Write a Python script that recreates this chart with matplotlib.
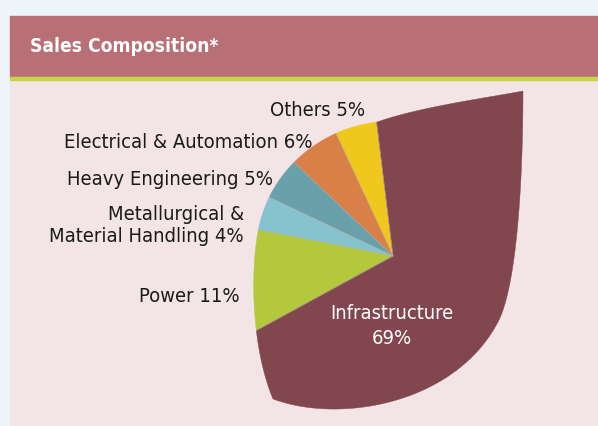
import numpy as np
import matplotlib.pyplot as plt
from matplotlib.patches import Polygon, Rectangle

# slice order follows the chart, counter-clockwise from the top
segments = ["Others", "Electrical & Automation", "Heavy Engineering",
            "Metallurgical &\nMaterial Handling", "Power", "Infrastructure"]
shares = [5, 6, 5, 4, 11, 69]
colors = ["#efc71d", "#d98048", "#6aa0aa", "#86c3ce", "#b3c93b", "#82474e"]
start_angle = 97

W, H = 598, 427
FONT = "DejaVu Sans"

fig = plt.figure(figsize=(W / 100, H / 100), dpi=100)
fig.patch.set_facecolor("#edf5fb")
ax = fig.add_axes([0, 0, 1, 1])


def px(x, y):
    # screen pixel (y down) -> axes coords (y up)
    return np.array([x, H - y], dtype=float)


def bezier(p0, p1, p2, p3, n=60):
    t = np.linspace(0, 1, n)[:, None]
    return ((1 - t) ** 3 * p0 + 3 * (1 - t) ** 2 * t * p1
            + 3 * (1 - t) * t ** 2 * p2 + t ** 3 * p3)


# panel, header and green rule
ax.add_patch(Rectangle(px(10, H), W - 10, H - 81, color="#f3e5e6", zorder=0))
ax.add_patch(Rectangle(px(10, 78), W - 10, 61, color="#b87076", zorder=0))
ax.add_patch(Rectangle(px(10, 81), W - 10, 3, color="#c4d641", zorder=0))
ax.text(30, H - 46, "Sales Composition*", color="white", fontsize=13.8,
        fontweight="bold", fontstretch="condensed", va="center", ha="left",
        family=FONT)

# leaf outline the pie is cut to (cubic bezier control points)
ctrl = [px(523, 92),
        px(480, 100), px(420, 108), px(377, 123),
        px(318, 130), px(268, 174), px(258, 233),
        px(250, 275), px(252, 350), px(273, 400),
        px(340, 425), px(455, 405), px(498, 323),
        px(517, 287), px(523, 180), px(523, 92)]
outline = np.vstack([bezier(*ctrl[i:i + 4]) for i in range(0, 15, 3)])

center = px(393, 257)
d = outline - center
theta = np.degrees(np.unwrap(np.arctan2(d[:, 1], d[:, 0])))
rad = np.hypot(d[:, 0], d[:, 1])
order = np.argsort(theta)
theta, rad = theta[order], rad[order]
th_ext = np.concatenate([theta - 360, theta, theta + 360])
r_ext = np.concatenate([rad, rad, rad])


def slice_polygon(a1, a2):
    inner = th_ext[(th_ext > a1) & (th_ext < a2)]
    ang = np.concatenate([[a1], inner, [a2]])
    r = np.interp(ang, th_ext, r_ext)
    pts = center + np.column_stack([r * np.cos(np.radians(ang)),
                                    r * np.sin(np.radians(ang))])
    return np.vstack([center, pts])


edges = start_angle + 360 * np.concatenate([[0], np.cumsum(shares)]) / sum(shares)
for a1, a2, c in zip(edges[:-1], edges[1:], colors):
    ax.add_patch(Polygon(slice_polygon(a1, a2), closed=True, facecolor=c,
                         edgecolor=c, linewidth=0.3, zorder=2))
for a in edges[:-1]:
    r = np.interp(a, th_ext, r_ext)
    ax.plot([center[0], center[0] + r * np.cos(np.radians(a))],
            [center[1], center[1] + r * np.sin(np.radians(a))],
            color="#b9a9a9", linewidth=0.4, zorder=3)

# labels
lab = dict(fontsize=14.5, color="#1a1a1a", family=FONT,
           fontstretch="condensed", va="center")
ax.text(365, H - 110, f"{segments[0]} {shares[0]}%", ha="right", **lab)
ax.text(312, H - 142, f"{segments[1]} {shares[1]}%", ha="right", **lab)
ax.text(273, H - 180, f"{segments[2]} {shares[2]}%", ha="right", **lab)
ax.text(244, H - 226, f"{segments[3]} {shares[3]}%", ha="right",
        linespacing=1.2, multialignment="right", **lab)
ax.text(240, H - 296, f"{segments[4]} {shares[4]}%", ha="right", **lab)
ax.text(392, H - 326, f"{segments[5]}\n{shares[5]}%", ha="center",
        va="center", fontsize=14.5, fontstretch="condensed", color="white",
        family=FONT, linespacing=1.4, zorder=4)

ax.set_xlim(0, W)
ax.set_ylim(0, H)
ax.set_aspect("equal")
ax.axis("off")

fig.savefig("out.png", dpi=100, facecolor=fig.get_facecolor())
